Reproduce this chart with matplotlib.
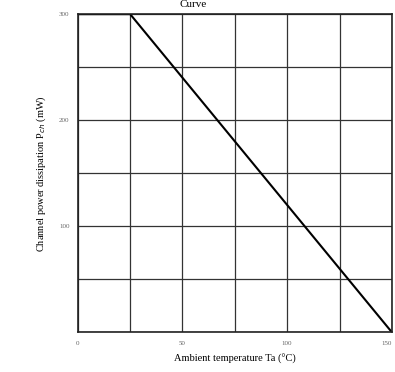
import numpy as np
import matplotlib
matplotlib.use("Agg")
import matplotlib.pyplot as plt

plt.rcParams['font.family'] = ['Liberation Serif', 'DejaVu Serif']

# derating curve points
temp = [0, 25, 150]
power = [300, 300, 0]

x_ticks = [0, 50, 100, 150]
y_ticks = [100, 200, 300]

fig = plt.figure(figsize=(3.95, 3.72), dpi=100)
ax = fig.add_axes([0.197, 0.107, 0.795, 0.855])

ax.plot(temp, power, color='black', linewidth=1.5, solid_capstyle='butt')

ax.set_xlim(0, 150)
ax.set_ylim(0, 300)
ax.set_xticks(np.arange(0, 151, 25))
ax.set_yticks(np.arange(0, 301, 50))
ax.grid(True, color='#333333', linewidth=0.9)
ax.tick_params(length=0, labelsize=5, colors='#666666', pad=6)
ax.set_xticklabels([str(v) if v in x_ticks else '' for v in range(0, 151, 25)])
ax.set_yticklabels([str(v) if v in y_ticks else '' for v in range(0, 301, 50)])
ax.get_xticklabels()[-1].set_ha('right')
for s in ax.spines.values():
    s.set_color('#222222')
    s.set_linewidth(1.2)

ax.set_xlabel('Ambient temperature Ta (°C)', fontsize=7.5, labelpad=6)
ax.set_ylabel('Channel power dissipation P$_{ch}$ (mW)', fontsize=7.5, labelpad=8)
fig.text(0.49, 0.999, 'Curve', ha='center', va='top', fontsize=8)

fig.savefig('out.png', dpi=100)
